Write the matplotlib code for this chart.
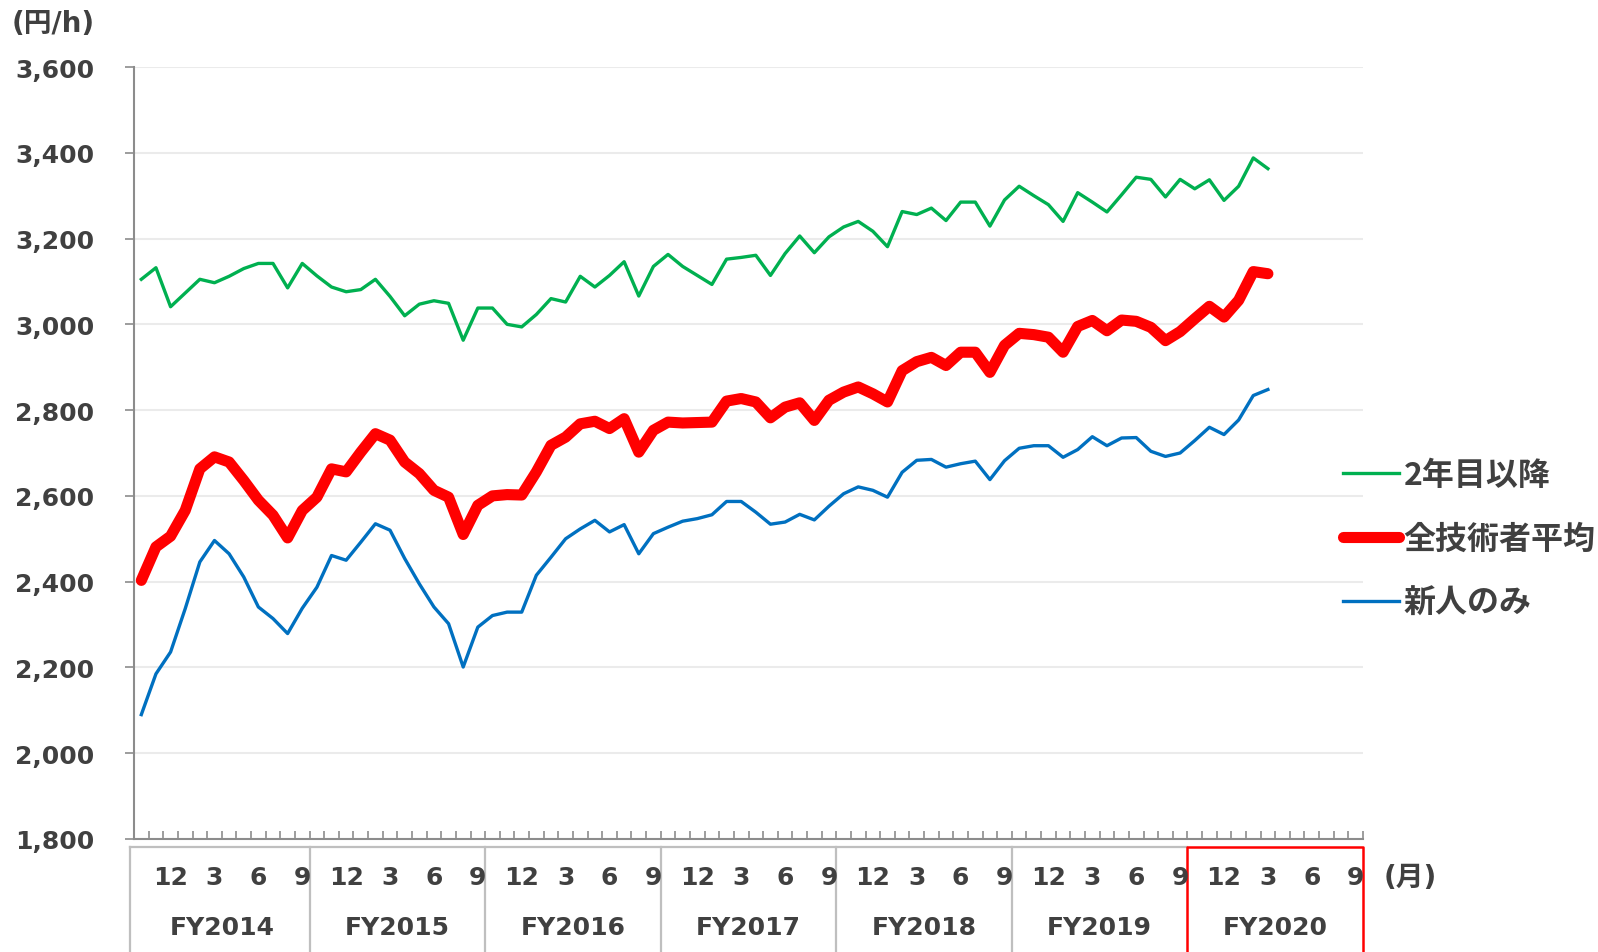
import numpy as np
import matplotlib
matplotlib.use("Agg")
import matplotlib.pyplot as plt
import matplotlib.transforms as mtransforms

plt.rcParams['font.family'] = ['DejaVu Sans', 'Noto Sans CJK JP']

# monthly data, Oct 2014 .. Mar 2021 (円/h)
senior = [3105, 3132, 3041, 3073, 3105, 3097, 3112, 3130, 3142, 3142, 3085, 3142, 3113,
          3087, 3076, 3081, 3105, 3065, 3020, 3047, 3055, 3049, 2963, 3038, 3038, 3000,
          2994, 3023, 3060, 3052, 3112, 3087, 3114, 3146, 3066, 3135, 3163, 3135, 3114,
          3093, 3152, 3156, 3161, 3114, 3165, 3206, 3167, 3204, 3227, 3240, 3217, 3181,
          3263, 3256, 3271, 3242, 3285, 3285, 3229, 3290, 3322, 3300, 3279, 3240, 3307,
          3285, 3262, 3302, 3343, 3338, 3297, 3338, 3316, 3337, 3289, 3322, 3388, 3363]

average = [2403, 2481, 2506, 2566, 2663, 2691, 2679, 2636, 2590, 2555, 2502, 2566, 2597,
           2663, 2656, 2702, 2745, 2730, 2679, 2652, 2613, 2597, 2510, 2578, 2600, 2603,
           2602, 2656, 2718, 2737, 2768, 2774, 2757, 2780, 2702, 2753, 2772, 2770, 2771,
           2772, 2821, 2827, 2819, 2782, 2807, 2817, 2776, 2823, 2842, 2854, 2838, 2819,
           2892, 2913, 2923, 2904, 2935, 2935, 2888, 2951, 2979, 2976, 2970, 2935, 2995,
           3009, 2985, 3010, 3007, 2993, 2962, 2983, 3013, 3042, 3017, 3056, 3123, 3118]

newcomer = [2090, 2185, 2236, 2337, 2446, 2496, 2465, 2411, 2341, 2314, 2279, 2338, 2387,
            2461, 2450, 2492, 2535, 2520, 2454, 2395, 2341, 2302, 2201, 2294, 2321, 2329,
            2329, 2415, 2457, 2500, 2523, 2543, 2516, 2533, 2465, 2512, 2527, 2541, 2547,
            2556, 2587, 2587, 2562, 2534, 2539, 2557, 2544, 2576, 2605, 2621, 2613, 2597,
            2655, 2683, 2685, 2667, 2675, 2681, 2638, 2682, 2711, 2717, 2717, 2690, 2708,
            2738, 2717, 2735, 2736, 2704, 2692, 2700, 2729, 2760, 2743, 2777, 2834, 2848]

fiscal_years = ['FY2014', 'FY2015', 'FY2016', 'FY2017', 'FY2018', 'FY2019', 'FY2020']
month_labels = ['12', '3', '6', '9']   # shown at positions 2, 5, 8, 11 of each year
month_label_pos = [2, 5, 8, 11]
series_names = ['2年目以降', '全技術者平均', '新人のみ']

TEXT = '#404040'
W, H = 1598, 953


def fy(px):
    return 1 - px / H


def main():
    fig = plt.figure(figsize=(W / 100, H / 100), dpi=100)
    ax = fig.add_axes([134 / W, fy(840), (1363 - 134) / W, (840 - 68) / H])

    n_months = 12 * len(fiscal_years)
    x = np.arange(len(senior))

    l1, = ax.plot(x, senior, color='#00B050', lw=2.4, solid_joinstyle='round')
    l2, = ax.plot(x, average, color='#FF0000', lw=8, solid_joinstyle='round',
                  solid_capstyle='round')
    l3, = ax.plot(x, newcomer, color='#0070C0', lw=2.4, solid_joinstyle='round')

    ax.set_xlim(-0.5, n_months - 0.5)
    ax.set_ylim(1800, 3600)
    yt = np.arange(1800, 3601, 200)
    ax.set_yticks(yt)
    ax.set_yticklabels([f'{v:,}' for v in yt], fontsize=18, fontweight='bold', color=TEXT)
    ax.tick_params(axis='y', direction='out', length=6.5, width=1.2, color='#8C8C8C', pad=22)
    ax.set_xticks(np.arange(-0.5, n_months, 1))
    ax.set_xticklabels([])
    ax.tick_params(axis='x', direction='in', length=6, width=1.2, color='#8C8C8C')

    ax.grid(axis='y', color='#EBEBEB', lw=1.5)
    ax.set_axisbelow(True)
    for s in ['top', 'right']:
        ax.spines[s].set_visible(False)
    for s in ['left', 'bottom']:
        ax.spines[s].set_color('#8C8C8C')
        ax.spines[s].set_linewidth(1.5)

    # category table under the axis
    tr = mtransforms.blended_transform_factory(ax.transData, fig.transFigure)
    top = fy(848)
    x_left = -0.75
    ax.plot([x_left, n_months - 12.5], [top, top], color='#BFBFBF', lw=1.6,
            transform=tr, clip_on=False)
    ax.plot([x_left, x_left], [top, -0.01], color='#BFBFBF', lw=1.6,
            transform=tr, clip_on=False)
    for k in range(1, len(fiscal_years) - 1):
        xb = k * 12 - 0.5
        ax.plot([xb, xb], [top, -0.01], color='#BFBFBF', lw=1.6, transform=tr, clip_on=False)
    xr0, xr1 = n_months - 12.5, n_months - 0.5
    ax.plot([xr0, xr0, xr1, xr1], [-0.01, top, top, -0.01], color='#FF0000', lw=1.8,
            transform=tr, clip_on=False)

    for k, name in enumerate(fiscal_years):
        for lab, p in zip(month_labels, month_label_pos):
            ax.text(k * 12 + p, fy(878), lab, transform=tr, ha='center', va='center',
                    fontsize=18, fontweight='bold', color=TEXT)
        ax.text(k * 12 + 5.5, fy(928), name, transform=tr, ha='center', va='center',
                fontsize=18, fontweight='bold', color=TEXT)

    fig.text(1384 / W, fy(878), '(月)', ha='left', va='center', fontsize=20,
             fontweight='bold', color=TEXT)
    fig.text(12 / W, fy(24), '(円/h)', ha='left', va='center', fontsize=20,
             fontweight='bold', color=TEXT)

    leg = fig.legend([l1, l2, l3], series_names, loc='center left',
                     bbox_to_anchor=(1343 / W, fy(540)), frameon=False,
                     prop=dict(family=['Noto Sans CJK JP'], weight='bold', size=23),
                     handlelength=1.75, handletextpad=0.15, labelspacing=1.0,
                     borderpad=0, borderaxespad=0)
    for t in leg.get_texts():
        t.set_color(TEXT)

    fig.savefig('out.png', dpi=100)


if __name__ == "__main__":
    main()
